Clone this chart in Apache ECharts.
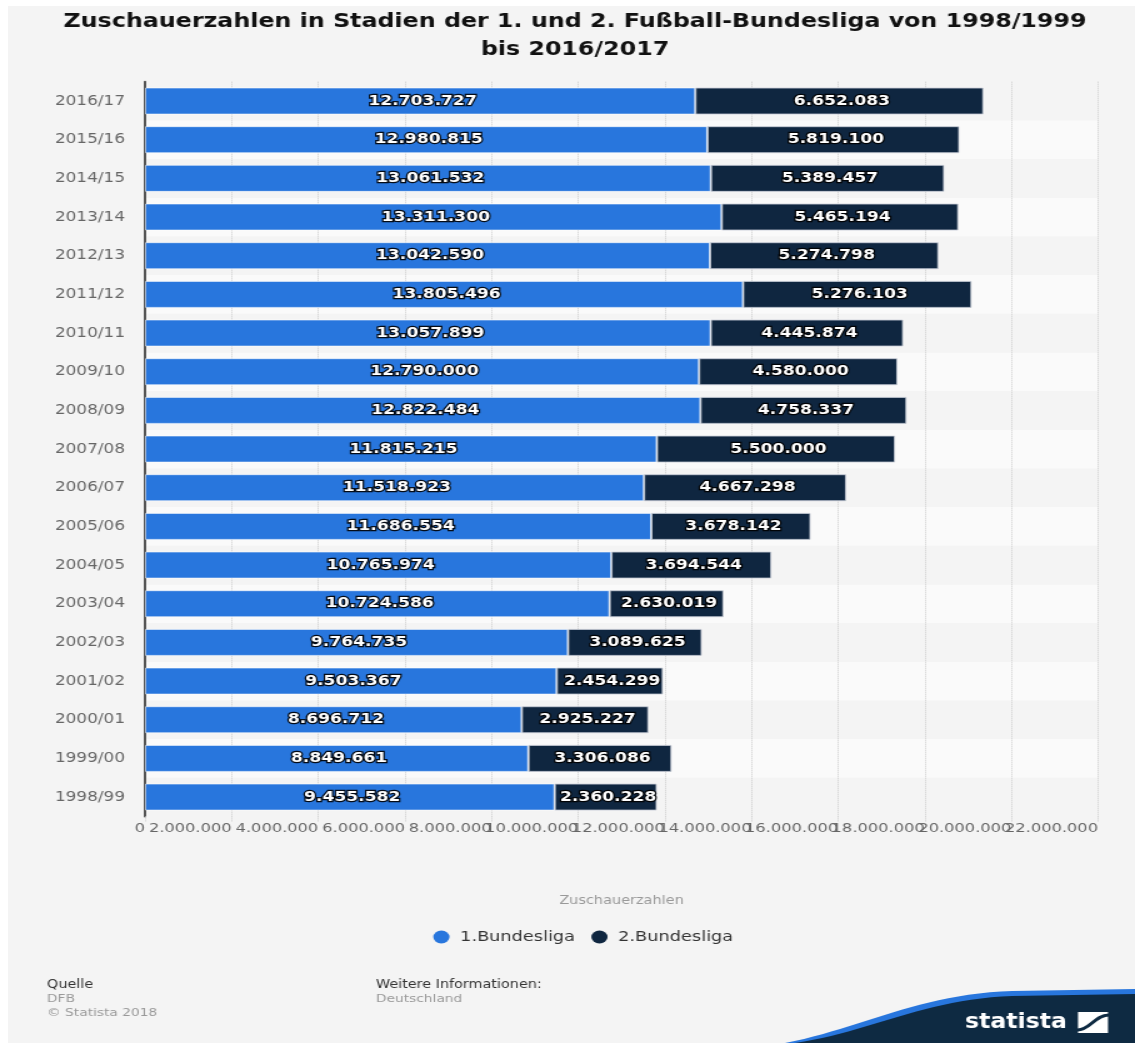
<!DOCTYPE html>
<html>
<head>
<meta charset="utf-8">
<script src="https://cdn.jsdelivr.net/npm/echarts@6/dist/echarts.min.js"></script>
<style>
html,body{margin:0;padding:0;background:#fff;width:1135px;height:1043px;overflow:hidden;}
#bg{position:absolute;left:8px;top:6px;right:0;bottom:0;background:#f4f4f4;}
#main{position:absolute;left:0;top:0;width:908px;height:1043px;transform:scaleX(1.25);transform-origin:0 0;}
</style>
</head>
<body>
<div id="bg"></div>
<div id="main"></div>
<script>
// ---- data ----
const categories = ['1998/99','1999/00','2000/01','2001/02','2002/03','2003/04','2004/05','2005/06','2006/07','2007/08','2008/09','2009/10','2010/11','2011/12','2012/13','2013/14','2014/15','2015/16','2016/17'];
const liga1 = [9455582, 8849661, 8696712, 9503367, 9764735, 10724586, 10765974, 11686554, 11518923, 11815215, 12822484, 12790000, 13057899, 13805496, 13042590, 13311300, 13061532, 12980815, 12703727];
const liga2 = [2360228, 3306086, 2925227, 2454299, 3089625, 2630019, 3694544, 3678142, 4667298, 5500000, 4758337, 4580000, 4445874, 5276103, 5274798, 5465194, 5389457, 5819100, 6652083];
const seriesNames = ['1.Bundesliga', '2.Bundesliga'];
const xTicks = {min: 0, max: 22000000, interval: 2000000};
const titleLines = ['Zuschauerzahlen in Stadien der 1. und 2. Fußball-Bundesliga von 1998/1999', 'bis 2016/2017'];

function fmt(v){ return String(Math.round(v)).replace(/\B(?=(\d{3})+(?!\d))/g, '.'); }

const FONT = '"DejaVu Sans", sans-serif';
const BLUE = '#2876dd', NAVY = '#0f2640', LOGO = '#0e2a42';

const chart = echarts.init(document.getElementById('main'), null, {renderer: 'canvas'});

const labelStyle = {
  show: true, position: 'inside', color: '#fff', fontFamily: FONT, fontWeight: 'bold', fontSize: 13.7,
  textBorderColor: 'rgba(0,0,0,0.9)', textBorderWidth: 2.5, offset: [2, 0],
  formatter: p => fmt(p.value)
};

function txt(x, y, text, font, fill, align){
  return {type: 'text', x: x, y: y, silent: true,
    style: {text: text, font: font, fill: fill, textAlign: align || 'left', align: align || 'left', textVerticalAlign: 'middle', verticalAlign: 'middle'}};
}
// cubic bezier sampled into polygon points (decorative logo wave)
function wave(x0, y0, c1x, c1y, c2x, c2y, x1, y1, xEnd, yEnd){
  const pts = [];
  for (let i = 0; i <= 24; i++) {
    const t = i / 24, u = 1 - t;
    pts.push([u*u*u*x0 + 3*u*u*t*c1x + 3*u*t*t*c2x + t*t*t*x1, u*u*u*y0 + 3*u*u*t*c1y + 3*u*t*t*c2y + t*t*t*y1]);
  }
  pts.push([908, yEnd]); pts.push([908, 1043]);
  return pts;
}

// two overlaid copies of the same value axis: one labels even ticks, the other odd ticks,
// so that overlapping neighbouring labels are all kept (as in the original)
function tickAxis(parity, main){
  return {
    type: 'value', min: xTicks.min, max: xTicks.max, interval: xTicks.interval, position: 'bottom', gridIndex: 0,
    name: main ? 'Zuschauerzahlen' : '', nameLocation: 'middle', nameGap: 79,
    nameTextStyle: {fontFamily: FONT, fontSize: 11.6, color: '#999'},
    axisLine: {show: false},
    axisTick: {show: main, length: 5, lineStyle: {color: '#ccc', type: 'dotted'}},
    splitLine: {show: main, lineStyle: {color: '#ccc', type: 'dotted', width: 1}},
    axisLabel: {fontFamily: FONT, fontSize: 13, color: '#666', align: 'right', margin: 6,
      showMaxLabel: true, showMinLabel: true,
      formatter: v => (Math.round(v / xTicks.interval) % 2 === parity ? fmt(v) : '')}
  };
}

chart.setOption({
  backgroundColor: 'transparent',
  animation: false,
  grid: {left: 116, right: 29.6, top: 81.7, height: 734.7},
  legend: {
    data: seriesNames, left: 341.6, top: 925, icon: 'circle', itemWidth: 14, itemHeight: 13, itemGap: 13,
    itemStyle: {borderWidth: 0},
    textStyle: {fontFamily: FONT, fontSize: 14.2, color: '#333', padding: [0, 0, 0, 3]}
  },
  xAxis: [tickAxis(0, true), tickAxis(1, false)],
  yAxis: {
    type: 'category', data: categories,
    axisLine: {show: true, lineStyle: {color: '#555', width: 2}},
    axisTick: {show: false},
    axisLabel: {fontFamily: FONT, fontSize: 13.5, color: '#666', margin: 16},
    splitArea: {show: true, areaStyle: {color: ['#f4f4f4', '#fafafa']}}
  },
  series: [
    {name: seriesNames[0], type: 'bar', stack: 'total', data: liga1, barWidth: 27, xAxisIndex: 0,
     itemStyle: {color: BLUE, borderColor: 'rgba(255,255,255,0.55)', borderWidth: 1}, label: labelStyle},
    {name: seriesNames[1], type: 'bar', stack: 'total', data: liga2, barWidth: 27, xAxisIndex: 0,
     itemStyle: {color: NAVY, borderColor: 'rgba(200,205,215,0.8)', borderWidth: 1}, label: labelStyle}
  ],
  graphic: [
    txt(460, 22, titleLines[0], 'bold 19px ' + FONT, '#111', 'center'),
    txt(460, 50, titleLines[1], 'bold 19px ' + FONT, '#111', 'center'),
    txt(37.6, 985, 'Quelle', '11.5px ' + FONT, '#333'),
    txt(37.6, 999, 'DFB', '11px ' + FONT, '#999'),
    txt(37.6, 1013, '© Statista 2018', '11px ' + FONT, '#999'),
    txt(300.8, 985, 'Weitere Informationen:', '11.5px ' + FONT, '#333'),
    txt(300.8, 999, 'Deutschland', '11px ' + FONT, '#999'),
    {type: 'polygon', silent: true, shape: {points: wave(628, 1043, 690, 1028, 735, 994, 810, 991, 908, 989)}, style: {fill: BLUE}},
    {type: 'polygon', silent: true, shape: {points: wave(636, 1043, 696, 1032, 740, 999, 810, 996, 908, 994)}, style: {fill: LOGO}},
    txt(772, 1023, 'statista', 'bold 21px "DejaVu Sans Condensed", ' + FONT, '#fff'),
    {type: 'rect', silent: true, shape: {x: 862.4, y: 1012, width: 24, height: 21}, style: {fill: '#fff'}},
    {type: 'bezierCurve', silent: true, shape: {x1: 862, y1: 1030, cpx1: 872, cpy1: 1030, cpx2: 876, cpy2: 1015, x2: 887, y2: 1015}, style: {fill: 'none', stroke: LOGO, lineWidth: 3}}
  ]
});
</script>
</body>
</html>
